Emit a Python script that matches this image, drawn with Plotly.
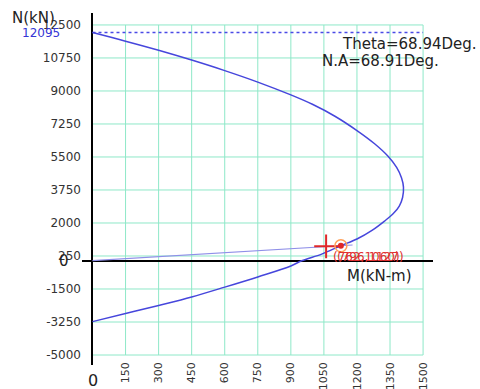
import plotly.graph_objects as go

# Interaction diagram: axial load N (kN) versus moment M (kN-m)
curve_m = [0, 150, 300, 450, 600, 750, 900, 1000, 1100, 1200, 1280, 1340, 1380, 1402,
           1411, 1407, 1392, 1365, 1325, 1270, 1200, 1127, 1040, 949,
           900, 750, 600, 450, 300, 150, 0]
curve_n = [12095, 11640, 11160, 10640, 10080, 9470, 8790, 8280, 7660, 6900, 6200, 5550, 4950, 4400,
           3900, 3350, 2900, 2500, 2100, 1620, 1150, 796, 350, 0,
           -280, -860, -1400, -1920, -2370, -2800, -3230]

n_max = 12095                      # pure compression capacity
load_line_m = [0, 1180]
load_line_n = [0, 833]
load_point = (1060, 762)           # applied (M, N)
capacity_point = (1127, 796)       # capacity on the load line

x_ticks = [150, 300, 450, 600, 750, 900, 1050, 1200, 1350, 1500]
y_ticks = [12500, 10750, 9000, 7250, 5500, 3750, 2000, 250, -1500, -3250, -5000]
grid_x = [0] + x_ticks

theta_text = "Theta=68.94Deg."
na_text = "N.A=68.91Deg."

W, H = 480, 389
L, R, T, B = 82, 47, 13, 24
PW, PH = W - L - R, H - T - B


def px(x):
    return (x - L) / PW


def py(y):
    return (H - B - y) / PH


fig = go.Figure()

fig.add_trace(go.Scatter(x=[0, 1500], y=[n_max, n_max], mode="lines",
                         line=dict(color="#4a4ae6", width=1.5, dash="dot"),
                         hoverinfo="skip"))
fig.add_trace(go.Scatter(x=load_line_m, y=load_line_n, mode="lines",
                         line=dict(color="#8f8fe8", width=1.2), hoverinfo="skip"))
fig.add_trace(go.Scatter(x=curve_m, y=curve_n, mode="lines",
                         line=dict(color="#4646dc", width=1.5, shape="spline", smoothing=1.0)))
fig.add_trace(go.Scatter(x=[load_point[0]], y=[load_point[1]], mode="markers",
                         marker=dict(symbol="cross-thin", size=17,
                                     line=dict(color="#e02828", width=2))))
fig.add_trace(go.Scatter(x=[capacity_point[0]], y=[capacity_point[1]], mode="markers",
                         marker=dict(symbol="circle-open", size=12,
                                     line=dict(color="#f0c0cc", width=1.5))))
fig.add_trace(go.Scatter(x=[capacity_point[0]], y=[capacity_point[1]], mode="markers",
                         marker=dict(symbol="circle", size=6, color="#e02828")))

# green grid limited to the labelled range
shapes = []
for gx in grid_x:
    shapes.append(dict(type="line", xref="x", yref="y", x0=gx, x1=gx, y0=-5000, y1=12500,
                       line=dict(color="#8ee8c8", width=1), layer="below"))
for gy in y_ticks:
    shapes.append(dict(type="line", xref="x", yref="y", x0=0, x1=1500, y0=gy, y1=gy,
                       line=dict(color="#8ee8c8", width=1), layer="below"))

font = "DejaVu Sans"
ann = [
    dict(text="N(kN)", x=px(33), y=py(18), xanchor="center", yanchor="middle",
         font=dict(size=15, color="#222222")),
    dict(text=str(n_max), x=px(62), y=py(33), xanchor="right", yanchor="middle",
         font=dict(size=12, color="#3535d5")),
    dict(text="0", x=px(64), y=py(261), xanchor="center", yanchor="middle",
         font=dict(size=15, color="#222222")),
    dict(text="0", x=px(93), y=py(380), xanchor="center", yanchor="middle",
         font=dict(size=16, color="#222222")),
    dict(text="M(kN-m)", x=px(345), y=py(276), xanchor="left", yanchor="middle",
         font=dict(size=15, color="#222222")),
    dict(text=theta_text, x=px(340), y=py(44), xanchor="left", yanchor="middle",
         font=dict(size=15, color="#222222")),
    dict(text=na_text, x=px(320), y=py(61), xanchor="left", yanchor="middle",
         font=dict(size=15, color="#222222")),
    dict(text=f"({load_point[1]},{load_point[0]})", x=px(331), y=py(257),
         xanchor="left", yanchor="middle", font=dict(size=12, color="#e03030")),
    dict(text=f"({capacity_point[1]},{capacity_point[0]})", x=px(335), y=py(257),
         xanchor="left", yanchor="middle", font=dict(size=12, color="#e03030")),
]
for a in ann:
    a.update(xref="paper", yref="paper", showarrow=False)
    a["font"]["family"] = font

fig.update_layout(
    width=W, height=H,
    margin=dict(l=L, r=R, t=T, b=B, pad=0, autoexpand=False),
    paper_bgcolor="white", plot_bgcolor="white",
    showlegend=False,
    shapes=shapes,
    annotations=ann,
    font=dict(family=font, size=12, color="#333333"),
    xaxis=dict(range=[-47.6, 1545], tickvals=x_ticks, ticktext=[str(v) for v in x_ticks],
               tickangle=-90, showgrid=False, showline=False, ticks="", automargin=False,
               zeroline=True, zerolinecolor="#000000", zerolinewidth=2,
               tickfont=dict(size=11, color="#333333"), ticklabelstandoff=-6),
    yaxis=dict(range=[-5530, 13134], tickvals=y_ticks, ticktext=[str(v) for v in y_ticks],
               showgrid=False, showline=False, ticks="", automargin=False,
               zeroline=True, zerolinecolor="#000000", zerolinewidth=2,
               tickfont=dict(size=12, color="#333333")),
)

fig.write_html("out.html")
